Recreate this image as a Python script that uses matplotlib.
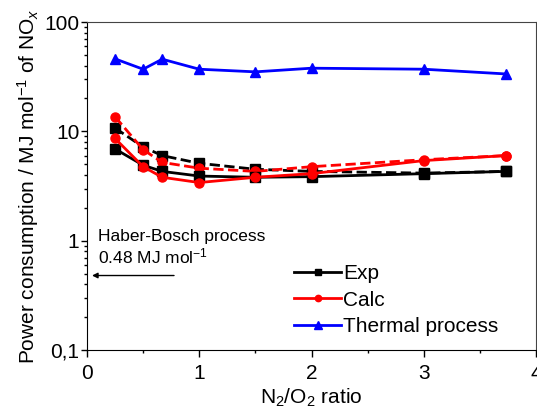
import matplotlib
matplotlib.use("Agg")
import matplotlib.pyplot as plt
from matplotlib.ticker import LogLocator, NullFormatter, MultipleLocator

plt.rcParams['font.family'] = ['Liberation Sans', 'DejaVu Sans']
plt.rcParams['mathtext.fontset'] = 'custom'
plt.rcParams['mathtext.rm'] = 'Liberation Sans'
plt.rcParams['mathtext.it'] = 'Liberation Sans:italic'

ratio = [0.25, 0.5, 0.67, 1.0, 1.5, 2.0, 3.0, 3.73]
exp_solid = [6.9, 4.9, 4.3, 3.9, 3.8, 3.85, 4.1, 4.3]
exp_dash = [10.7, 7.2, 6.0, 5.1, 4.5, 4.3, 4.15, 4.3]
calc_solid = [8.6, 4.75, 3.8, 3.4, 3.8, 4.1, 5.4, 6.0]
calc_dash = [13.6, 6.8, 5.2, 4.6, 4.3, 4.75, 5.5, 6.0]
thermal = [46, 37, 45.7, 37, 35, 37.8, 37, 33.5]
haber_bosch = 0.48

fig = plt.figure(figsize=(5.37, 4.19), dpi=100)
ax = fig.add_axes([87/537, 1-350/419, (536-87)/537, (350-22)/419])

ms = 6.5
ax.plot(ratio, exp_dash, '--', color='black', lw=2, marker='s', ms=ms)
ax.plot(ratio, calc_dash, '--', color='red', lw=2, marker='o', ms=ms)
l1, = ax.plot(ratio, exp_solid, '-', color='black', lw=2, marker='s', ms=ms, label='Exp')
l2, = ax.plot(ratio, calc_solid, '-', color='red', lw=2, marker='o', ms=ms, label='Calc')
l3, = ax.plot(ratio, thermal, '-', color='blue', lw=2, marker='^', ms=7.5, label='Thermal process')

ax.set_yscale('log')
ax.set_ylim(0.1, 100)
ax.set_xlim(0, 4)
ax.set_yticks([0.1, 1, 10, 100])
ax.set_yticklabels(['0,1', '1', '10', '100'])
ax.yaxis.set_minor_locator(LogLocator(base=10, subs=range(2, 10)))
ax.yaxis.set_minor_formatter(NullFormatter())
ax.xaxis.set_major_locator(MultipleLocator(1))
ax.xaxis.set_minor_locator(MultipleLocator(0.5))

for s in ['top', 'right']:
    ax.spines[s].set_linewidth(0.8)
    ax.spines[s].set_color('#444444')
ax.tick_params(axis='x', which='major', direction='out', length=5, width=1, labelsize=15, pad=5)
ax.tick_params(axis='y', which='major', direction='out', length=4, width=1, labelsize=15, pad=1.5)
ax.tick_params(axis='both', which='minor', direction='out', length=2.5, width=1)

ax.set_xlabel(r'N$_2$/O$_2$ ratio', fontsize=15, labelpad=3)
ax.set_ylabel(r'Power consumption / MJ mol$^{-1}$ of NO$_x$', fontsize=15, labelpad=2)

ax.text(0.024, 0.345, 'Haber-Bosch process', fontsize=12.5, va='center', ha='left',
        transform=ax.transAxes)
ax.text(0.024, 0.284, r'0.48 MJ mol$^{-1}$', fontsize=12.5, va='center', ha='left',
        transform=ax.transAxes)
ax.annotate('', xy=(0.02, haber_bosch), xytext=(0.8, haber_bosch),
            arrowprops=dict(arrowstyle='-|>', color='black', lw=1, mutation_scale=8))

ax.legend(handles=[l1, l2, l3], loc='center left', bbox_to_anchor=(0.462, 0.152),
          frameon=False, fontsize=15, handlelength=2.25, handletextpad=0.1,
          labelspacing=0.35, markerscale=0.7, borderaxespad=0, borderpad=0)

fig.savefig('out.png', dpi=100)
